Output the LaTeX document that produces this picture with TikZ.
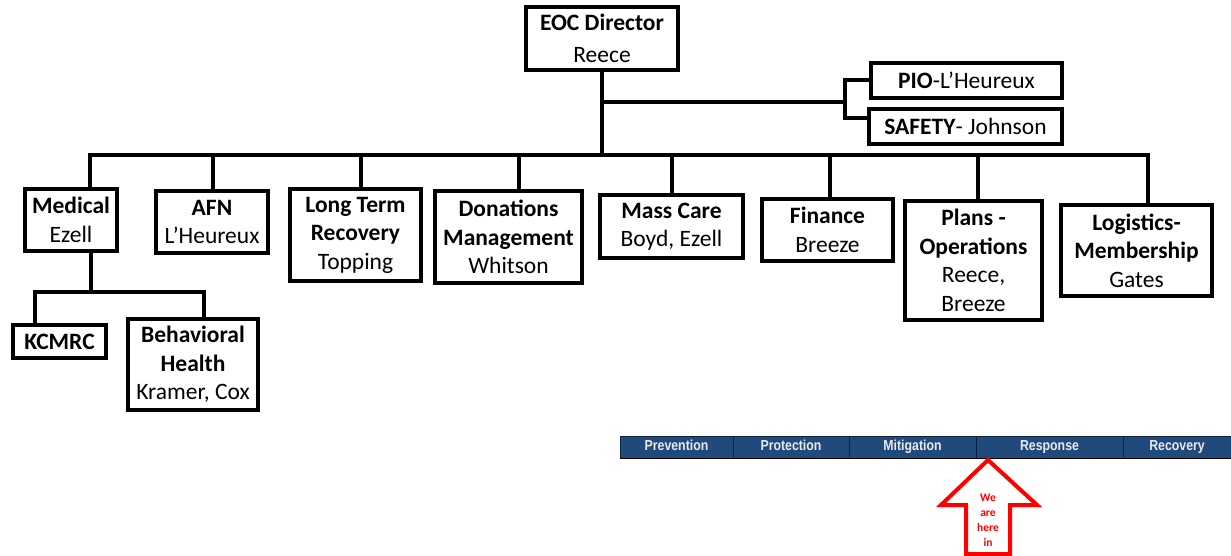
\documentclass[tikz,border=0pt]{standalone}
\usepackage{fontspec}
\setmainfont{Carlito}
\newfontfamily\barfont[FakeStretch=0.85]{Liberation Sans}
\definecolor{barblue}{RGB}{33,74,124}
\definecolor{barline}{RGB}{15,35,65}
\definecolor{bartext}{RGB}{232,234,238}
\tikzset{
  orgbox/.style={draw, line width=4pt, fill=white, align=center, inner sep=0pt,
    font=\fontsize{23.5}{28.5}\selectfont},
  wire/.style={line width=4pt},
  phase/.style={fill=barblue, draw=barline, line width=0.8pt, inner sep=0pt,
    minimum height=22pt, text height=10pt, text depth=2.5pt, text=bartext,
    font=\barfont\bfseries\fontsize{14.5}{14.5}\selectfont},
}
\begin{document}
\begin{tikzpicture}[x=1pt,y=-1pt]
\useasboundingbox (0,0) rectangle (1231,556);

% boxes
\node[orgbox, minimum width=152pt, minimum height=63pt] (EOC) at (602,38.5) {\textbf{EOC Director}\\[3pt]Reece};
\node[orgbox, minimum width=191pt, minimum height=35pt] (PIO) at (966.5,80.5) {\textbf{PIO}-L’Heureux};
\node[orgbox, minimum width=193pt, minimum height=35pt] (SAF) at (965.5,126.5) {\textbf{SAFETY}- Johnson};
\node[orgbox, minimum width=92pt, minimum height=62pt] (Med) at (71,220) {\textbf{Medical}\\Ezell};
\node[orgbox, minimum width=112pt, minimum height=62pt] (AFN) at (212,222) {\textbf{AFN}\\L’Heureux};
\node[orgbox, minimum width=131pt, minimum height=92pt] (LTR) at (355.5,235) {\textbf{Long Term}\\\textbf{Recovery}\\Topping};
\node[orgbox, minimum width=147pt, minimum height=92pt] (Don) at (508.5,237) {\textbf{Donations}\\\textbf{Management}\\Whitson};
\node[orgbox, minimum width=143pt, minimum height=63pt] (Mass) at (671.5,226.5) {\textbf{Mass Care}\\Boyd, Ezell};
\node[orgbox, minimum width=131pt, minimum height=62pt] (Fin) at (827.5,230) {\textbf{Finance}\\Breeze};
\node[orgbox, minimum width=137pt, minimum height=119pt] (Plan) at (973.5,260.5) {\textbf{Plans -}\\\textbf{Operations}\\Reece,\\Breeze};
\node[orgbox, minimum width=151pt, minimum height=91pt] (Log) at (1136.5,250.5) {\textbf{Logistics-}\\\textbf{Membership}\\Gates};
\node[orgbox, minimum width=93pt, minimum height=33pt] (KC) at (59.5,341.5) {\textbf{KCMRC}};
\node[orgbox, minimum width=130pt, minimum height=91pt] (BH) at (193,364.5) {\textbf{Behavioral}\\\textbf{Health}\\Kramer, Cox};

% connectors
\coordinate (busL) at (88,155);
\coordinate (busR) at (1150,155);
\coordinate (br) at (845,102);
\coordinate (brB) at (845,118);
\draw[wire] (EOC.south) -- (EOC.south |- busL);
\draw[wire] (busL) -- (busR);
\draw[wire] (EOC.south |- br) -- (br);
\draw[wire] (PIO.west) -| (brB) -- (brB -| SAF.west);

\coordinate (sMed) at (90,155);
\coordinate (sAFN) at (213,155);
\coordinate (sLTR) at (361,155);
\coordinate (sDon) at (519,155);
\coordinate (sMass) at (672,155);
\coordinate (sFin) at (830,155);
\coordinate (sPlan) at (978,155);
\coordinate (sLog) at (1148,155);
\draw[wire] (sMed) -- (sMed |- Med.north);
\draw[wire] (sAFN) -- (sAFN |- AFN.north);
\draw[wire] (sLTR) -- (sLTR |- LTR.north);
\draw[wire] (sDon) -- (sDon |- Don.north);
\draw[wire] (sMass) -- (sMass |- Mass.north);
\draw[wire] (sFin) -- (sFin |- Fin.north);
\draw[wire] (sPlan) -- (sPlan |- Plan.north);
\draw[wire] (sLog) -- (sLog |- Log.north);

\coordinate (mst) at (91,292);
\coordinate (subL) at (35,292);
\coordinate (subR) at (204,292);
\draw[wire] (mst |- Med.south) -- (mst);
\draw[wire] (subL |- KC.north) -- (subL) -- (subR) -- (subR |- BH.north);

% phase bar
\node[phase, minimum width=113pt] (pPrev) at (676.5,447) {Prevention};
\node[phase, minimum width=116pt] (pProt) at (791,447) {Protection};
\node[phase, minimum width=127pt] (pMit) at (912.5,447) {Mitigation};
\node[phase, minimum width=147pt] (pResp) at (1049.5,447) {Response};
\node[phase, minimum width=108pt] (pRec) at (1177,447) {Recovery};
\draw[black, line width=1.5pt] (pPrev.south west) -- (pRec.south east);

% arrow
\coordinate (tip) at (988,460);
\draw[red, line width=4pt, fill=white, line join=miter]
  (tip) -- (1037,505) -- (1010,505) -- (1010,554) -- (966,554) -- (966,505) -- (941,505) -- cycle;
\node[text=red, align=center, inner sep=0pt, font=\bfseries\fontsize{11.5}{15}\selectfont] (here) at (988,520) {We\\are\\here\\in};
\end{tikzpicture}
\end{document}
